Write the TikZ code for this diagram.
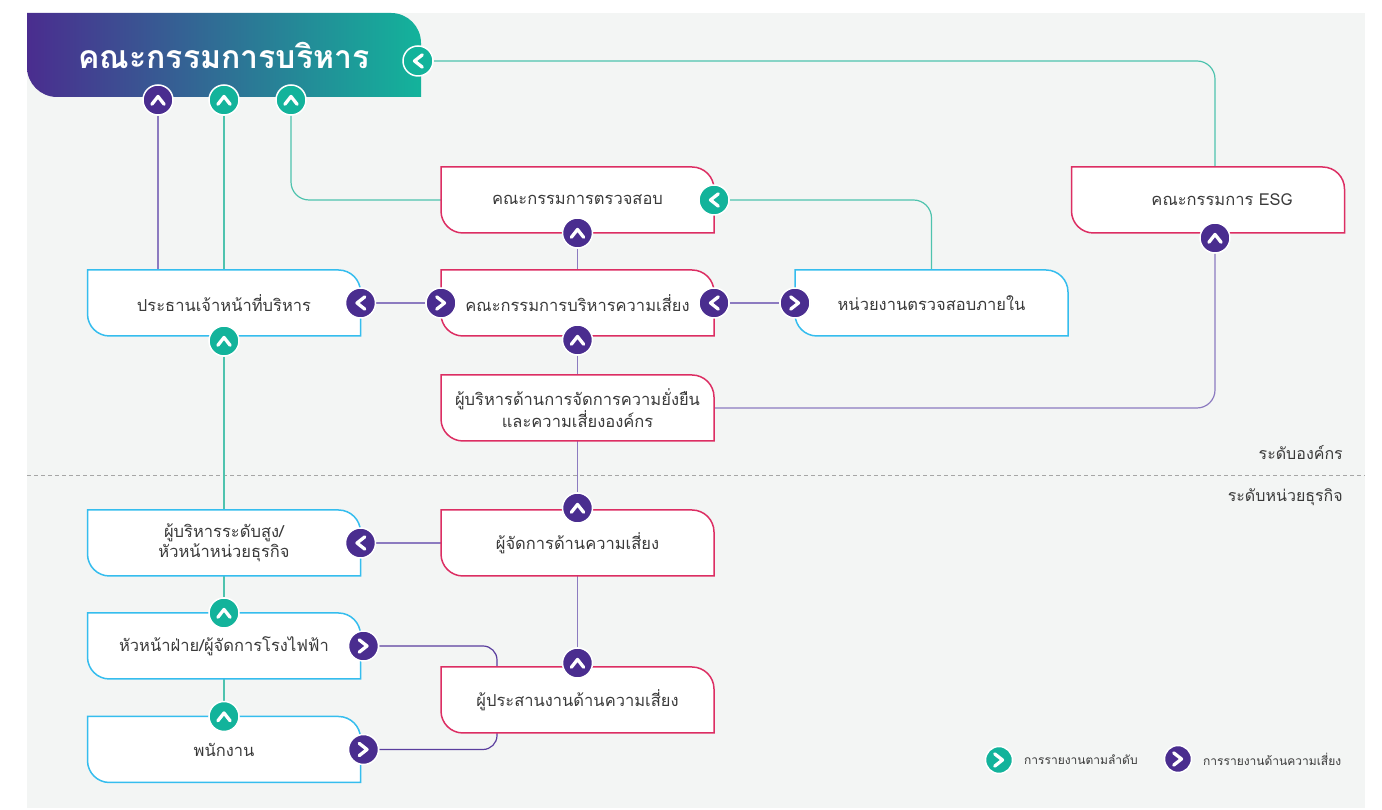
\documentclass[tikz,border=0pt]{standalone}
\usepackage{fontspec}
\setmainfont[Script=Thai]{Loma}
\usetikzlibrary{calc}
\definecolor{rpurple}{HTML}{4A2D8F}
\definecolor{rteal}{HTML}{13B39B}
\definecolor{tealline}{HTML}{4EC3AE}
\definecolor{lavline}{HTML}{8C7BC0}
\definecolor{deepline}{HTML}{5A3E9E}
\definecolor{pinkb}{HTML}{DC2E63}
\definecolor{blueb}{HTML}{35BDEE}
\definecolor{txtgray}{HTML}{3A3A3A}
\definecolor{bggray}{HTML}{F3F5F4}
\pgfdeclarelayer{bottom}
\pgfdeclarelayer{back}
\pgfsetlayers{bottom,back,main}

\begin{document}
\begin{tikzpicture}[x=1pt,y=1pt,
  orgbox/.style={minimum width=273pt, minimum height=66pt, inner sep=0pt, outer sep=0pt, align=center, text=txtgray, font=\fontsize{16.5}{20}\selectfont},
  badge/.style={circle, minimum size=30pt, inner sep=0pt, draw=white, line width=1.5pt, fill=#1},
  chev/.style={path picture={\draw[white, line width=3.3pt, line cap=round, line join=round] ($(path picture bounding box.center)+(#1+125:7.5)$) -- ($(path picture bounding box.center)+(#1:3.5)$) -- ($(path picture bounding box.center)+(#1-125:7.5)$);}},
  tealln/.style={draw=tealline, line width=1.2pt, rounded corners=18pt},
  lavln/.style={draw=lavline, line width=1.2pt, rounded corners=18pt},
  deepln/.style={draw=deepline, line width=1.2pt, rounded corners=14pt}]
\useasboundingbox (0,0) rectangle (1382,810);
\begin{pgfonlayer}{bottom}
\fill[bggray] (27,2) rectangle (1365,797);
\end{pgfonlayer}

\node[minimum width=394pt, minimum height=84pt, inner sep=0pt, outer sep=0pt, text=white, font=\fontsize{32}{36}\selectfont\bfseries] (board) at (224,755) {คณะกรรมการบริหาร};

\node[orgbox] (audit) at (577.5,610) {คณะกรรมการตรวจสอบ};
\node[orgbox] (esg) at (1208,610) {\hspace*{28pt}คณะกรรมการ ESG};
\node[orgbox] (ceo) at (224,507) {ประธานเจ้าหน้าที่บริหาร};
\node[orgbox] (riskcom) at (577.5,507) {คณะกรรมการบริหารความเสี่ยง};
\node[orgbox] (inaudit) at (931.5,507) {หน่วยงานตรวจสอบภายใน};
\node[orgbox] (susexec) at (577.5,402) {ผู้บริหารด้านการจัดการความยั่งยืน\\และความเสี่ยงองค์กร};
\node[orgbox] (riskmgr) at (577.5,267) {ผู้จัดการด้านความเสี่ยง};
\node[orgbox] (senior) at (224,267) {ผู้บริหารระดับสูง/\\หัวหน้าหน่วยธุรกิจ};
\node[orgbox] (head) at (224,164) {หัวหน้าฝ่าย/ผู้จัดการโรงไฟฟ้า};
\node[orgbox] (staff) at (224,60.5) {พนักงาน};
\node[orgbox] (coord) at (577.5,110) {ผู้ประสานงานด้านความเสี่ยง};

\node[badge=rpurple, chev=90] (bd1) at (158,710) {};
\node[badge=rteal, chev=90] (bd2) at (224,710) {};
\node[badge=rteal, chev=90] (bd3) at (291,710) {};
\node[badge=rteal, chev=180] (bd4) at (418,749) {};
\node[badge=rteal, chev=180] (auditR) at (audit.east) {};
\node[badge=rpurple, chev=90] (auditB) at (audit.south) {};
\node[badge=rpurple, chev=90] (esgB) at ([xshift=7pt,yshift=-5pt]esg.south) {};
\node[badge=rpurple, chev=180] (ceoR) at (ceo.east) {};
\node[badge=rteal, chev=90] (ceoB) at ([yshift=-5pt]ceo.south) {};
\node[badge=rpurple, chev=0] (riskL) at (riskcom.west) {};
\node[badge=rpurple, chev=180] (riskR) at (riskcom.east) {};
\node[badge=rpurple, chev=90] (riskB) at ([yshift=-4pt]riskcom.south) {};
\node[badge=rpurple, chev=0] (inL) at (inaudit.west) {};
\node[badge=rpurple, chev=90] (mgrT) at ([yshift=2pt]riskmgr.north) {};
\node[badge=rpurple, chev=180] (senR) at (senior.east) {};
\node[badge=rteal, chev=90] (headT) at (head.north) {};
\node[badge=rpurple, chev=0] (headR) at ([xshift=3pt]head.east) {};
\node[badge=rteal, chev=90] (staffT) at (staff.north) {};
\node[badge=rpurple, chev=0] (staffR) at ([xshift=3pt]staff.east) {};
\node[badge=rpurple, chev=90] (coordT) at ([yshift=4pt]coord.north) {};

\node[anchor=east, inner sep=0pt, text=txtgray, font=\fontsize{16}{19}\selectfont] (orglvl) at (1343,357) {ระดับองค์กร};
\node[anchor=east, inner sep=0pt, text=txtgray, font=\fontsize{16}{19}\selectfont] (bulvl) at (1343,313) {ระดับหน่วยธุรกิจ};

\node[badge=rteal, chev=0, minimum size=27pt] (keyteal) at (999,50) {};
\node[anchor=west, inner sep=0pt, text=txtgray, font=\fontsize{12}{14}\selectfont] (keytealtxt) at (1024,50) {การรายงานตามลำดับ};
\node[badge=rpurple, chev=0, minimum size=27pt] (keypurp) at (1178,51) {};
\node[anchor=west, inner sep=0pt, text=txtgray, font=\fontsize{12}{14}\selectfont] (keypurptxt) at (1203,51) {การรายงานด้านความเสี่ยง};

\begin{pgfonlayer}{back}
\shade[left color=rpurple, right color=rteal] (board.north west) -- ($(board.north east)+(-30,0)$) arc[start angle=90, end angle=0, radius=30] -- (board.south east) -- ($(board.south west)+(30,0)$) arc[start angle=270, end angle=180, radius=30] -- cycle;
\draw[gray!70, line width=1pt, dash pattern=on 4pt off 3pt] (27,334) -- (1365,334);

\draw[tealln] (bd4) -| (esgB |- esg.north);
\draw[lavln] (bd1) -- (bd1 |- ceo.north);
\draw[tealln] (bd2) -- (ceo.north);
\draw[tealln] (audit.west) -| (bd3);
\draw[tealln] (auditR) -| (inaudit.north);
\draw[lavln] (auditB) -- (riskcom.north);
\draw[lavln] (ceoR) -- (riskL);
\draw[lavln] (riskR) -- (inL);
\draw[lavln] (riskB) -- (susexec.north);
\draw[lavln] (esgB) |- (susexec.east);
\draw[lavln] (susexec.south) -- (mgrT);
\draw[lavln] (riskmgr.west) -- (senR);
\draw[lavln] (riskmgr.south) -- (coordT);
\draw[tealln] (ceoB) -- (senior.north);
\draw[tealln] (senior.south) -- (headT);
\draw[tealln] (head.south) -- (staffT);
\draw[deepln] (headR) -| ([xshift=-80.5pt]coord.north);
\draw[deepln] (staffR) -| ([xshift=-80.5pt]coord.south);

\foreach \n/\c in {audit/pinkb, esg/pinkb, riskcom/pinkb, susexec/pinkb, riskmgr/pinkb, coord/pinkb, ceo/blueb, inaudit/blueb, senior/blueb, head/blueb, staff/blueb}
  \draw[\c, line width=1.5pt, fill=white] (\n.north west) -- ($(\n.north east)+(-22,0)$) arc[start angle=90, end angle=0, radius=22] -- (\n.south east) -- ($(\n.south west)+(22,0)$) arc[start angle=270, end angle=180, radius=22] -- cycle;
\end{pgfonlayer}
\end{tikzpicture}
\end{document}
